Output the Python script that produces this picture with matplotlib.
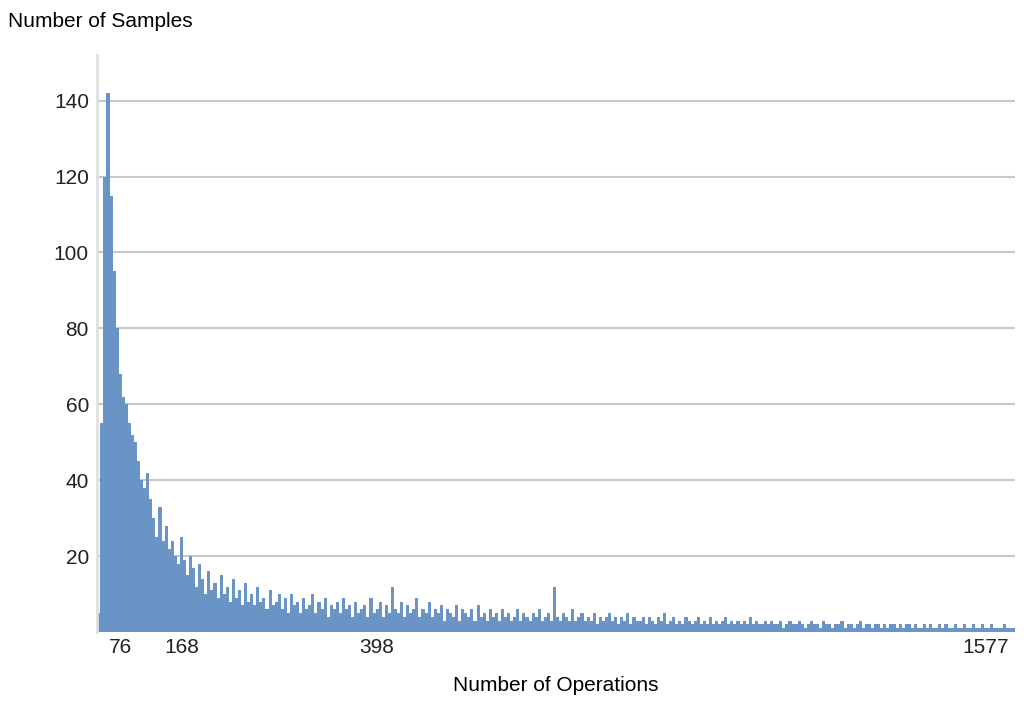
import matplotlib.pyplot as plt

plt.rcParams['font.family'] = 'Liberation Sans'

# sample counts per operation-count bin, read left to right
counts = [
    5, 55, 120, 142, 115, 95, 80, 68, 62, 60,
    55, 52, 50, 45, 40, 38, 42, 35, 30, 25,
    33, 24, 28, 22, 24, 20, 18, 25, 19, 15,
    20, 17, 12, 18, 14, 10, 16, 11, 13, 9,
    15, 10, 12, 8, 14, 9, 11, 7, 13, 8,
    10, 7, 12, 8, 9, 6, 11, 7, 8, 10,
    6, 9, 5, 10, 7, 8, 5, 9, 6, 7,
    10, 5, 8, 6, 9, 4, 7, 6, 8, 5,
    9, 6, 7, 4, 8, 5, 6, 7, 4, 9,
    5, 6, 8, 4, 7, 5, 12, 6, 5, 8,
    4, 7, 5, 6, 9, 4, 6, 5, 8, 4,
    6, 5, 7, 3, 6, 5, 4, 7, 3, 6,
    5, 4, 6, 3, 7, 4, 5, 3, 6, 4,
    5, 3, 6, 4, 5, 3, 4, 6, 3, 5,
    4, 3, 5, 4, 6, 3, 4, 5, 3, 12,
    4, 3, 5, 4, 3, 6, 3, 4, 5, 3,
    4, 3, 5, 2, 4, 3, 4, 5, 3, 4,
    2, 4, 3, 5, 2, 4, 3, 3, 4, 2,
    4, 3, 2, 4, 3, 5, 2, 3, 4, 2,
    3, 2, 4, 3, 2, 3, 4, 2, 3, 2,
    4, 2, 3, 2, 3, 4, 2, 3, 2, 3,
    2, 3, 2, 4, 2, 3, 2, 2, 3, 2,
    3, 2, 2, 3, 1, 2, 3, 2, 2, 3,
    2, 1, 2, 3, 2, 2, 1, 3, 2, 2,
    1, 2, 2, 3, 1, 2, 2, 1, 2, 3,
    1, 2, 2, 1, 2, 2, 1, 2, 1, 2,
    2, 1, 2, 1, 2, 2, 1, 2, 1, 1,
    2, 1, 2, 1, 1, 2, 1, 2, 1, 1,
    2, 1, 1, 2, 1, 1, 2, 1, 1, 2,
    1, 1, 2, 1, 1, 1, 2, 1, 1, 1,
]
tick_positions = [7, 27, 91, 290]
tick_labels = ['76', '168', '398', '1577']
y_ticks = [20, 40, 60, 80, 100, 120, 140]

fig = plt.figure(figsize=(10.24, 7.15), dpi=100)
ax = fig.add_axes([0.095, 0.116, 0.896, 0.807])

ax.bar(range(len(counts)), counts, width=1.0, color='#6a93c6', linewidth=0, zorder=2)

ax.set_xlim(-0.5, len(counts) - 0.5)
ax.set_ylim(0, 152)
ax.set_yticks(y_ticks)
ax.set_yticklabels([str(v) for v in y_ticks], fontsize=15, color='#222222')
ax.set_xticks(tick_positions)
ax.set_xticklabels(tick_labels, fontsize=15, color='#222222')
ax.tick_params(axis='y', length=0, pad=6)
ax.tick_params(axis='x', length=3, width=1.5, direction='in', pad=4)
ax.grid(True, axis='y', color='#c8c8c8', linewidth=1.5, zorder=1)

for side in ['top', 'right', 'bottom']:
    ax.spines[side].set_visible(False)
ax.spines['left'].set_color('#e0e0e0')
ax.spines['left'].set_linewidth(2)

fig.text(0.008, 0.97, 'Number of Samples', fontsize=15, ha='left', va='center')
ax.set_xlabel('Number of Operations', fontsize=15, labelpad=14)

plt.savefig('out.png', dpi=100)
